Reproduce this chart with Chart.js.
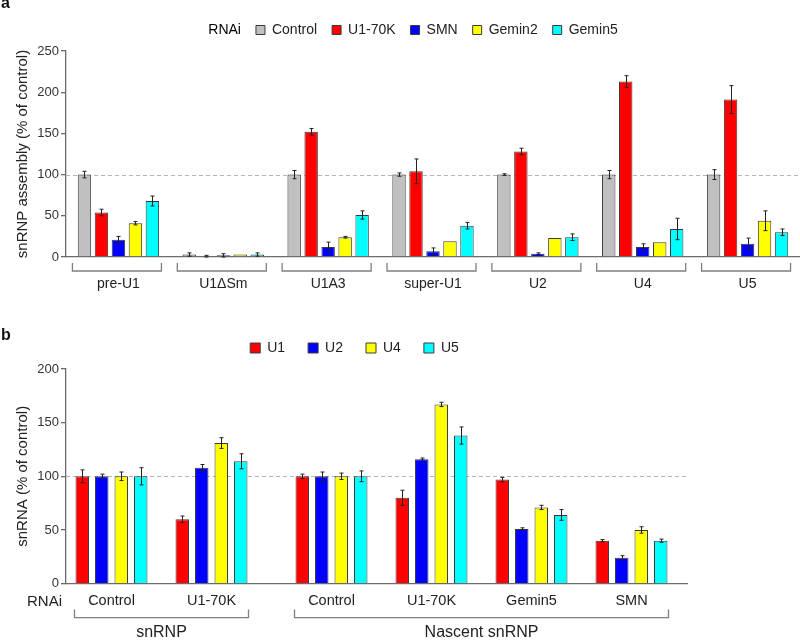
<!DOCTYPE html>
<html><head><meta charset="utf-8">
<script src="https://cdn.jsdelivr.net/npm/chart.js@4.4.1/dist/chart.umd.min.js"></script>
<style>
html,body{margin:0;padding:0;background:#fff;}
#wrap{position:relative;width:800px;height:640px;overflow:hidden;font-family:'Liberation Sans',Arial,sans-serif;}
canvas{position:absolute;left:0;}
#ca{top:0;}
#cb{top:300px;}
.panel{position:absolute;left:1px;font-weight:bold;font-size:16px;color:#111;line-height:normal;}
</style></head><body>
<div id="wrap">
<canvas id="ca" width="800" height="300"></canvas>
<canvas id="cb" width="732" height="340"></canvas>
<div class="panel" style="top:-6px">a</div>
<div class="panel" style="top:326px">b</div>
</div>
<script>
// ---------- Panel a data ----------
const assemblyGroups = ['pre-U1','U1ΔSm','U1A3','super-U1','U2','U4','U5'];
const rnaiSeries = ['Control','U1-70K','SMN','Gemin2','Gemin5'];
const controlVals = [100, 3, 100, 100, 100, 100, 100];
const u170kVals   = [54, 1, 152, 104, 128, 213, 191];
const smnVals     = [21, 2, 12, 7, 4, 12, 16];
const gemin2Vals  = [41, 3, 24, 19, 23, 18, 44];
const gemin5Vals  = [68, 3, 51, 38, 24, 34, 30];
const controlErr = [4, 2, 5, 2, 1, 5, 6];
const u170kErr   = [4, 1, 4, 15, 4, 7, 17];
const smnErr     = [4, 2, 6, 4, 1, 4, 7];
const gemin2Err  = [2, 0, 1, 0, 0, 0, 12];
const gemin5Err  = [6, 2, 5, 4, 4, 13, 4];
const assemblyMax = 250;

// ---------- Panel b data ----------
const snrnaGroups = ['Control','U1-70K','Control','U1-70K','Gemin5','SMN'];
const groupSection = [0, 0, 1, 1, 1, 1];
const sectionNames = ['snRNP','Nascent snRNP'];
const snrnaSeries = ['U1','U2','U4','U5'];
const u1Vals = [100, 60, 100, 80, 97, 40];
const u2Vals = [100, 108, 100, 116, 51, 24];
const u4Vals = [100, 131, 100, 167, 71, 50];
const u5Vals = [100, 114, 100, 138, 64, 40];
const u1Err = [6, 3, 2, 7, 2, 1];
const u2Err = [2, 3, 4, 1, 1, 2];
const u4Err = [4, 5, 3, 2, 2, 3];
const u5Err = [8, 7, 5, 8, 5, 1.5];
const snrnaMax = 200;

// ---------- styling ----------
const FONT = "'Liberation Sans', Arial, sans-serif";
Chart.defaults.font.family = FONT;
Chart.defaults.color = '#222';
const AXIS = '#6b6b6b';
const BORDER = '#3a3a3a';
const COLORS_A = ['#c0c0c0','#ff0000','#0000ff','#ffff00','#00ffff'];
const COLORS_B = ['#ff0000','#0000ff','#ffff00','#00ffff'];
const SECTION_GAP = 0.2;

const errorBars = {
  id: 'errorBars',
  afterDatasetsDraw(chart) {
    const ctx = chart.ctx, ys = chart.scales.y;
    ctx.save();
    ctx.strokeStyle = '#222';
    ctx.lineWidth = 1;
    chart.data.datasets.forEach((ds, di) => {
      const meta = chart.getDatasetMeta(di);
      meta.data.forEach((bar, i) => {
        const e = ds.errors[i];
        if (!e) return;
        const v = meta.controller.getParsed(i).y;
        const x = Math.round(bar.x) + 0.5;
        const t = ys.getPixelForValue(v + e), b = ys.getPixelForValue(Math.max(0, v - e));
        ctx.beginPath();
        ctx.moveTo(x, t); ctx.lineTo(x, b);
        ctx.moveTo(x - 2, t); ctx.lineTo(x + 2, t);
        ctx.moveTo(x - 2, b); ctx.lineTo(x + 2, b);
        ctx.stroke();
      });
    });
    ctx.restore();
  }
};

const refLine = {
  id: 'refLine',
  beforeDatasetsDraw(chart) {
    const ctx = chart.ctx, ys = chart.scales.y, a = chart.chartArea;
    const y = Math.round(ys.getPixelForValue(100)) + 0.5;
    ctx.save();
    ctx.strokeStyle = '#b5b5b5';
    ctx.lineWidth = 1;
    ctx.setLineDash([4, 3]);
    ctx.beginPath(); ctx.moveTo(a.left, y); ctx.lineTo(a.right, y); ctx.stroke();
    ctx.restore();
  }
};

const bracketsA = {
  id: 'bracketsA',
  afterDraw(chart) {
    const ctx = chart.ctx, xs = chart.scales.x, a = chart.chartArea;
    ctx.save();
    ctx.strokeStyle = '#7f7f7f';
    ctx.lineWidth = 1.3;
    assemblyGroups.forEach((g, i) => {
      const cx = xs.getPixelForValue(i) - 1.5;
      const l = cx - 44.5, r = cx + 44.5;
      const y0 = a.bottom + 6, y1 = a.bottom + 14;
      ctx.beginPath();
      ctx.moveTo(l, y0); ctx.lineTo(l, y1); ctx.lineTo(r, y1); ctx.lineTo(r, y0);
      ctx.stroke();
    });
    ctx.restore();
  }
};

const bracketsB = {
  id: 'bracketsB',
  afterDraw(chart) {
    const ctx = chart.ctx, xs = chart.scales.x, a = chart.chartArea;
    ctx.save();
    ctx.strokeStyle = '#7f7f7f';
    ctx.lineWidth = 1.3;
    ctx.fillStyle = '#222';
    ctx.textAlign = 'center';
    ctx.textBaseline = 'middle';
    ctx.font = "16px " + FONT;
    sectionNames.forEach((name, s) => {
      const idx = groupSection.map((g, i) => g === s ? i : -1).filter(i => i >= 0);
      const l = xs.getPixelForValue(groupX[idx[0]]) - 37;
      const r = xs.getPixelForValue(groupX[idx[idx.length - 1]]) + 37;
      const y0 = a.bottom + 26, y1 = a.bottom + 34;
      ctx.beginPath();
      ctx.moveTo(l, y0); ctx.lineTo(l, y1); ctx.lineTo(r, y1); ctx.lineTo(r, y0);
      ctx.stroke();
      ctx.fillText(name, (l + r) / 2, a.bottom + 49);
    });
    ctx.font = "15px " + FONT;
    ctx.textAlign = 'right';
    ctx.fillText('RNAi', a.left - 4, a.bottom + 18);
    ctx.restore();
  }
};

// ---------- Chart a ----------
const seriesA = [controlVals, u170kVals, smnVals, gemin2Vals, gemin5Vals];
const errA = [controlErr, u170kErr, smnErr, gemin2Err, gemin5Err];
new Chart(document.getElementById('ca'), {
  type: 'bar',
  data: {
    labels: assemblyGroups,
    datasets: rnaiSeries.map((name, k) => ({
      label: name,
      data: seriesA[k],
      errors: errA[k],
      backgroundColor: COLORS_A[k],
      borderColor: BORDER,
      borderWidth: 1,
      categoryPercentage: 0.81,
      barPercentage: 0.79
    }))
  },
  options: {
    responsive: false,
    animation: false,
    layout: { padding: { top: 8, left: 10, right: 0, bottom: 7 } },
    plugins: {
      tooltip: { enabled: false },
      title: { display: true, text: '', padding: 0, font: { size: 4, lineHeight: 1 }, weight: 500 },
      legend: {
        position: 'top',
        labels: {
          boxWidth: 9, boxHeight: 9, padding: 15,
          font: { size: 14 }, color: '#222',
          generateLabels(chart) {
            const items = Chart.defaults.plugins.legend.labels.generateLabels(chart);
            return [{ text: 'RNAi', fillStyle: 'rgba(0,0,0,0)', strokeStyle: 'rgba(0,0,0,0)', lineWidth: 0, hidden: false, datasetIndex: -1 }].concat(items);
          }
        },
        onClick() {}
      }
    },
    scales: {
      x: {
        afterFit(s) { s.height = 36; },
        grid: { display: false, drawTicks: false },
        border: { display: true, color: AXIS, width: 1.3 },
        ticks: { font: { size: 14 }, color: '#222', padding: 19, maxRotation: 0, autoSkip: false }
      },
      y: {
        min: 0, max: assemblyMax,
        afterFit(s) { s.width = 56; },
        grid: { drawOnChartArea: false, drawTicks: true, tickLength: 5, color: AXIS, lineWidth: 1.3 },
        border: { display: true, color: AXIS, width: 1.3 },
        ticks: { stepSize: 50, font: { size: 13 }, color: '#333', padding: 2 },
        title: { display: true, text: 'snRNP assembly (% of control)', font: { size: 15 }, color: '#222', padding: { top: 3.5, bottom: 0 } }
      }
    }
  },
  plugins: [refLine, errorBars, bracketsA]
});

// ---------- Chart b ----------
const groupX = groupSection.map((s, i) => i + s * SECTION_GAP);
const seriesB = [u1Vals, u2Vals, u4Vals, u5Vals];
const errB = [u1Err, u2Err, u4Err, u5Err];
new Chart(document.getElementById('cb'), {
  type: 'bar',
  data: {
    datasets: snrnaSeries.map((name, k) => ({
      label: name,
      data: seriesB[k].map((v, i) => ({ x: groupX[i], y: v })),
      errors: errB[k],
      backgroundColor: COLORS_B[k],
      borderColor: BORDER,
      borderWidth: 1,
      categoryPercentage: 0.78,
      barPercentage: 0.69
    }))
  },
  options: {
    responsive: false,
    animation: false,
    layout: { padding: { top: 18, left: 22, right: 45, bottom: 30 } },
    plugins: {
      tooltip: { enabled: false },
      title: { display: true, text: '', padding: 0, font: { size: 4, lineHeight: 1 }, weight: 500 },
      legend: {
        position: 'top',
        labels: { boxWidth: 10, boxHeight: 10, padding: 23, font: { size: 14 }, color: '#222' },
        onClick() {}
      }
    },
    scales: {
      x: {
        type: 'linear',
        offset: false,
        bounds: 'data',
        min: -0.455,
        max: 5.755,
        afterFit(s) { s.height = 26.4; },
        afterBuildTicks(s) { s.ticks = groupX.map(v => ({ value: v })); },
        grid: { display: false, drawTicks: false },
        border: { display: true, color: AXIS, width: 1.3 },
        ticks: {
          font: { size: 14.5 }, color: '#222', padding: 9, maxRotation: 0, autoSkip: false,
          callback(v, i) { return snrnaGroups[i]; }
        }
      },
      y: {
        min: 0, max: snrnaMax,
        afterFit(s) { s.width = 44; },
        grid: { drawOnChartArea: false, drawTicks: true, tickLength: 5, color: AXIS, lineWidth: 1.3 },
        border: { display: true, color: AXIS, width: 1.3 },
        ticks: { stepSize: 50, font: { size: 13 }, color: '#333', padding: 2 },
        title: { display: true, text: 'snRNA (% of control)', font: { size: 15 }, color: '#222', padding: { top: -8.5, bottom: 0 } }
      }
    }
  },
  plugins: [refLine, errorBars, bracketsB]
});
</script>
</body></html>
